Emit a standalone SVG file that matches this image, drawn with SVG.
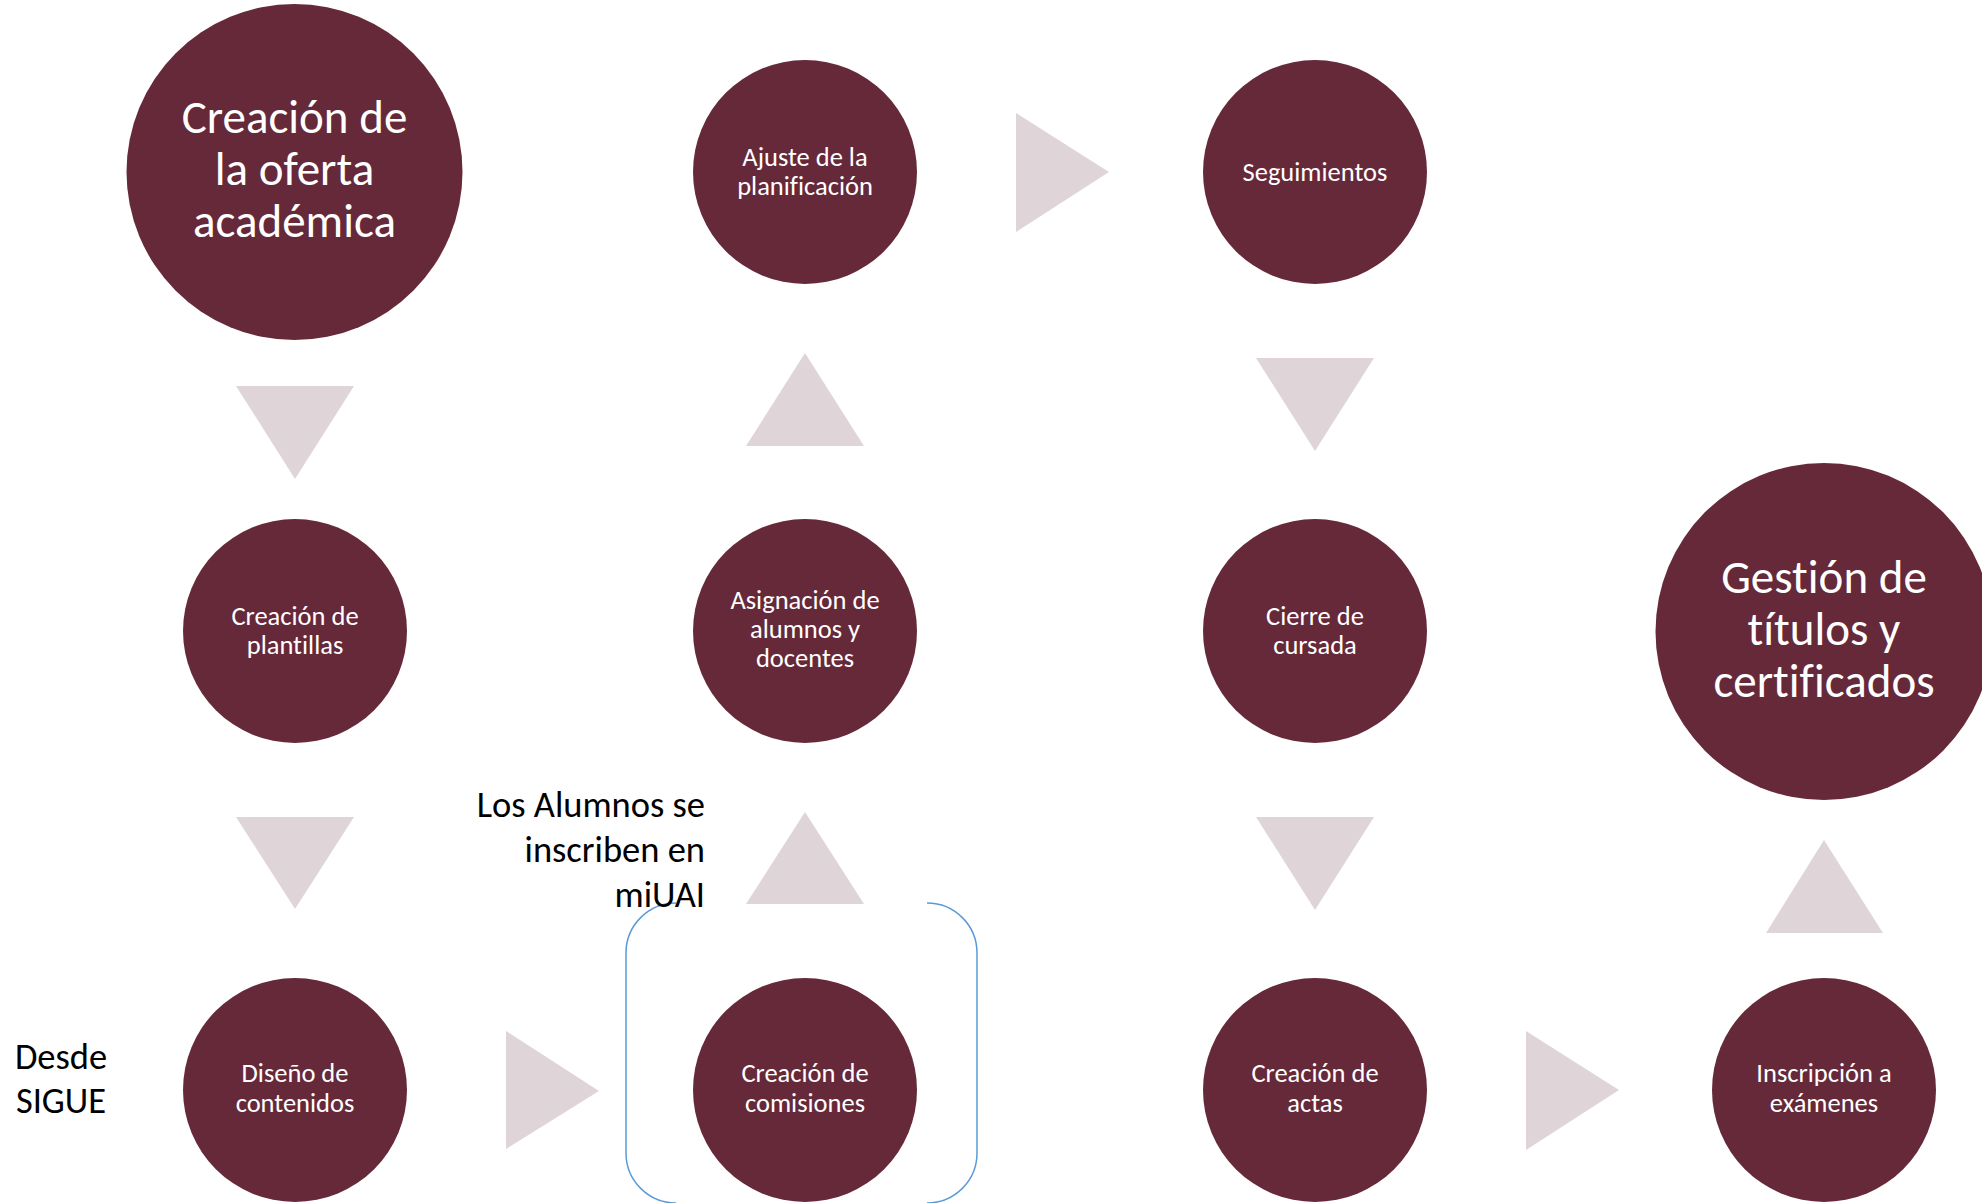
<svg xmlns="http://www.w3.org/2000/svg" width="1982" height="1203" viewBox="0 0 1982 1203">
<style>
.c{fill:#66293A}
.a{fill:#DFD5D8}
.t{font-family:Carlito,Calibri,Lato,"Liberation Sans",sans-serif;fill:#FFFFFF;text-anchor:middle;font-variant-ligatures:none;font-feature-settings:"liga" 0,"clig" 0}
.s{font-size:26.5px}
.b{font-size:47px}
.k{font-family:Carlito,Calibri,Lato,"Liberation Sans",sans-serif;fill:#000000;font-size:36.5px;font-variant-ligatures:none}
.br{fill:none;stroke:#5B9BD5;stroke-width:1.5}
</style>
<rect width="1982" height="1203" fill="#FFFFFF"/>
<g id="connectors">
<polygon class="a" points="236,386 354,386 295,479"/>
<polygon class="a" points="236,817 354,817 295,909"/>
<polygon class="a" points="506,1031 599,1091 506,1149"/>
<polygon class="a" points="746,904 864,904 805,812"/>
<polygon class="a" points="746,446 864,446 805,353"/>
<polygon class="a" points="1016,113 1109,172 1016,232"/>
<polygon class="a" points="1256,358 1374,358 1315,451"/>
<polygon class="a" points="1256,817 1374,817 1315,910"/>
<polygon class="a" points="1526,1031 1619,1090 1526,1150"/>
<polygon class="a" points="1766,933 1883,933 1824,840"/>
</g>
<g id="n-oferta"><circle class="c" cx="294.5" cy="172" r="168"/>
<text class="t b"><tspan x="294.5" y="133">Creación de</tspan><tspan x="294.5" y="185">la oferta</tspan><tspan x="294.5" y="237">académica</tspan></text></g>
<g id="n-plantillas"><circle class="c" cx="295" cy="631" r="112"/>
<text class="t s"><tspan x="295" y="625">Creación de</tspan><tspan x="295" y="654">plantillas</tspan></text></g>
<g id="n-diseno"><circle class="c" cx="295" cy="1090" r="112"/>
<text class="t s"><tspan x="295" y="1082">Diseño de</tspan><tspan x="295" y="1112">contenidos</tspan></text></g>
<g id="n-comisiones"><circle class="c" cx="805" cy="1090" r="112"/>
<text class="t s"><tspan x="805" y="1082">Creación de</tspan><tspan x="805" y="1112">comisiones</tspan></text></g>
<g id="n-asignacion"><circle class="c" cx="805" cy="631" r="112"/>
<text class="t s"><tspan x="805" y="609">Asignación de</tspan><tspan x="805" y="638">alumnos y</tspan><tspan x="805" y="667">docentes</tspan></text></g>
<g id="n-ajuste"><circle class="c" cx="805" cy="172" r="112"/>
<text class="t s"><tspan x="805" y="166">Ajuste de la</tspan><tspan x="805" y="195">planificación</tspan></text></g>
<g id="n-seguimientos"><circle class="c" cx="1315" cy="172" r="112"/>
<text class="t s" x="1315" y="181">Seguimientos</text></g>
<g id="n-cierre"><circle class="c" cx="1315" cy="631" r="112"/>
<text class="t s"><tspan x="1315" y="625">Cierre de</tspan><tspan x="1315" y="654">cursada</tspan></text></g>
<g id="n-actas"><circle class="c" cx="1315" cy="1090" r="112"/>
<text class="t s"><tspan x="1315" y="1082">Creación de</tspan><tspan x="1315" y="1112">actas</tspan></text></g>
<g id="n-inscripcion"><circle class="c" cx="1824" cy="1090" r="112"/>
<text class="t s"><tspan x="1824" y="1082">Inscripción a</tspan><tspan x="1824" y="1112">exámenes</tspan></text></g>
<g id="n-gestion"><circle class="c" cx="1824" cy="631.5" r="168.5"/>
<text class="t b"><tspan x="1824" y="593">Gestión de</tspan><tspan x="1824" y="645">títulos y</tspan><tspan x="1824" y="697">certificados</tspan></text></g>
<g id="bracket">
<path class="br" d="M676,903 A50,50 0 0 0 626,953 L626,1153 A50,50 0 0 0 676,1203"/>
<path class="br" d="M927,903 A50,50 0 0 1 977,953 L977,1153 A50,50 0 0 1 927,1203"/>
</g>
<g id="label-sigue"><text class="k" text-anchor="middle"><tspan x="61" y="1069">Desde</tspan><tspan x="61" y="1113">SIGUE</tspan></text></g>
<g id="label-miuai"><text class="k" text-anchor="end"><tspan x="705" y="817">Los Alumnos se</tspan><tspan x="705" y="862">inscriben en</tspan><tspan x="705" y="907">miUAI</tspan></text></g>
</svg>
